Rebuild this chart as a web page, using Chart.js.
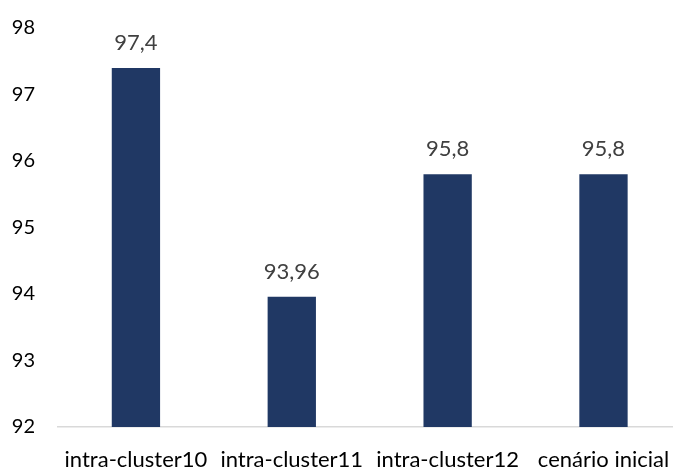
<!DOCTYPE html>
<html>
<head>
<meta charset="utf-8">
<script src="https://cdn.jsdelivr.net/npm/chart.js@4/dist/chart.umd.min.js"></script>
<style>
  html, body { margin: 0; padding: 0; background: #fff; overflow: hidden; }
  #wrap { position: relative; width: 690px; height: 467px; }
</style>
</head>
<body>
<div id="wrap"><canvas id="chart" width="690" height="467"></canvas></div>
<script>
// Scenario names and their measured values
const categories = ['intra-cluster10', 'intra-cluster11', 'intra-cluster12', 'cenário inicial'];
const values = [97.4, 93.96, 95.8, 95.8];
const yTicks = [92, 93, 94, 95, 96, 97, 98];

const FONT = 'Lato, "Open Sans", sans-serif';

// Writes each bar's value above it, with a decimal comma
const valueLabels = {
  id: 'valueLabels',
  afterDatasetsDraw(chart) {
    const ctx = chart.ctx;
    const meta = chart.getDatasetMeta(0);
    ctx.save();
    ctx.font = '22px ' + FONT;
    ctx.fillStyle = '#404040';
    ctx.textAlign = 'center';
    ctx.textBaseline = 'alphabetic';
    meta.data.forEach((bar, i) => {
      const txt = String(values[i]).replace('.', ',');
      ctx.fillText(txt, bar.x, bar.y - 18);
    });
    ctx.restore();
  }
};

new Chart(document.getElementById('chart'), {
  type: 'bar',
  data: {
    labels: categories,
    datasets: [{
      data: values,
      backgroundColor: '#203864',
      borderWidth: 0,
      categoryPercentage: 1,
      barPercentage: 0.31
    }]
  },
  options: {
    responsive: false,
    animation: false,
    layout: { padding: { top: 28, right: 7, left: 0, bottom: 0 } },
    plugins: { legend: { display: false }, tooltip: { enabled: false } },
    scales: {
      x: {
        grid: { display: false, drawTicks: false, tickLength: 0 },
        border: { display: true, color: '#d9d9d9', width: 1.5 },
        ticks: {
          color: '#000',
          font: { family: FONT, size: 22 },
          padding: 20,
          maxRotation: 0,
          autoSkip: false
        },
        afterFit(scale) { scale.height = 40; }
      },
      y: {
        min: 92,
        max: 98,
        afterBuildTicks(scale) { scale.ticks = yTicks.map(v => ({ value: v })); },
        grid: { display: false, drawTicks: false, tickLength: 0 },
        border: { display: false },
        ticks: {
          color: '#000',
          font: { family: FONT, size: 20 },
          padding: 23
        },
        afterFit(scale) {
          scale.width = 58;
          // keep the label gap from pushing the plot area down
          scale.paddingTop = 0;
          scale.paddingBottom = 0;
        }
      }
    }
  },
  plugins: [valueLabels]
});
</script>
</body>
</html>
